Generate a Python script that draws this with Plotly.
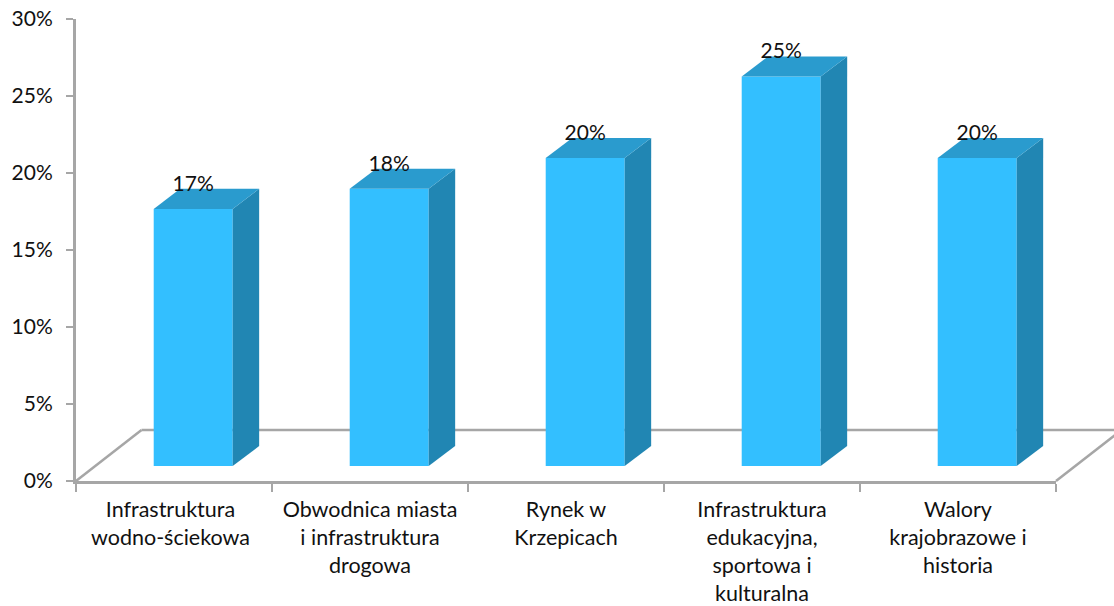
import plotly.graph_objects as go

# --- Data ---
CATEGORIES = [
    "Infrastruktura<br>wodno-ściekowa",
    "Obwodnica miasta<br>i infrastruktura<br>drogowa",
    "Rynek w<br>Krzepicach",
    "Infrastruktura<br>edukacyjna,<br>sportowa i<br>kulturalna",
    "Walory<br>krajobrazowe i<br>historia",
]
VALUES = [16.7, 18.0, 20.0, 25.3, 20.0]
LABELS = ["17%", "18%", "20%", "25%", "20%"]
Y_TICKS = [0, 5, 10, 15, 20, 25, 30]

# --- Constants ---
WIDTH, HEIGHT = 1114, 606
LEFT, RIGHT, TOP, BOTTOM = 76, 58, 19, 125
FONT = "Lato"
AXIS_COLOR = "#A6A6A6"
FRONT_COLOR = "#33BFFF"
TOP_COLOR = "#2A9BCE"
SIDE_COLOR = "#2186B3"

# fake 3d: offsets in axis units
BAR_SHIFT = 0.098
BAR_WIDTH = 0.403
BAR_BASE = 0.97
DEPTH_X = 0.135
DEPTH_Y = 1.3

centers = list(range(len(CATEGORIES)))
bar_x = [c + BAR_SHIFT for c in centers]
# first label sits a little left of its slot in the original
label_x = [c - 0.018 if c == 0 else c for c in centers]

fig = go.Figure()

fig.add_trace(
    go.Bar(
        x=bar_x,
        y=VALUES,
        base=BAR_BASE,
        width=BAR_WIDTH,
        marker=dict(color=FRONT_COLOR, line=dict(width=0)),
        hoverinfo="skip",
    )
)

# side and top faces of each bar
for x, value in zip(bar_x, VALUES):
    x0 = x - BAR_WIDTH / 2
    x1 = x + BAR_WIDTH / 2
    top = BAR_BASE + value
    fig.add_trace(
        go.Scatter(
            x=[x1, x1 + DEPTH_X, x1 + DEPTH_X, x1, x1],
            y=[BAR_BASE, BAR_BASE + DEPTH_Y, top + DEPTH_Y, top, BAR_BASE],
            mode="lines",
            fill="toself",
            fillcolor=SIDE_COLOR,
            line=dict(width=0),
            hoverinfo="skip",
        )
    )
    fig.add_trace(
        go.Scatter(
            x=[x0, x0 + DEPTH_X, x1 + DEPTH_X, x1, x0],
            y=[top, top + DEPTH_Y, top + DEPTH_Y, top, top],
            mode="lines",
            fill="toself",
            fillcolor=TOP_COLOR,
            line=dict(width=0),
            hoverinfo="skip",
        )
    )

# data labels sit on the back edge of the top face
fig.add_trace(
    go.Scatter(
        x=bar_x,
        y=[BAR_BASE + v + DEPTH_Y - 0.45 for v in VALUES],
        mode="text",
        text=LABELS,
        textposition="top center",
        textfont=dict(family=FONT, size=21, color="#111111"),
        cliponaxis=False,
        hoverinfo="skip",
    )
)

# floor outline, in paper units so it can run past the plot area
plot_w = WIDTH - LEFT - RIGHT
plot_h = HEIGHT - TOP - BOTTOM
floor_dx = 65.5 / plot_w
floor_dy = 51 / plot_h
floor_line = dict(color=AXIS_COLOR, width=2.5)
for x0, y0, x1, y1 in [
    (0, 0, floor_dx, floor_dy),
    (floor_dx, floor_dy, 1 + floor_dx, floor_dy),
    (1, 0, 1 + floor_dx, floor_dy),
]:
    fig.add_shape(
        type="line",
        xref="paper",
        yref="paper",
        x0=x0,
        y0=y0,
        x1=x1,
        y1=y1,
        line=floor_line,
        layer="below",
    )

fig.update_layout(
    width=WIDTH,
    height=HEIGHT,
    margin=dict(l=LEFT, r=RIGHT, t=TOP, b=BOTTOM),
    paper_bgcolor="white",
    plot_bgcolor="white",
    showlegend=False,
    font=dict(family=FONT, size=21, color="#111111"),
)

fig.update_xaxes(
    automargin=False,
    range=[-0.5, len(CATEGORIES) - 0.5],
    tickmode="array",
    tickvals=label_x,
    ticktext=CATEGORIES,
    tickfont=dict(family=FONT, size=21.5, color="#111111"),
    ticks="",
    tickangle=0,
    ticklabelstandoff=7,
    ticklabeloverflow="allow",
    showgrid=False,
    zeroline=False,
    showline=True,
    linecolor=AXIS_COLOR,
    linewidth=3,
    minor=dict(
        tickmode="array",
        tickvals=[c - 0.5 for c in centers] + [centers[-1] + 0.5],
        ticks="outside",
        ticklen=8,
        tickwidth=2,
        tickcolor=AXIS_COLOR,
        showgrid=False,
    ),
)

fig.update_yaxes(
    automargin=False,
    range=[0, 30],
    tickmode="array",
    tickvals=Y_TICKS,
    ticktext=[f"{t}%" for t in Y_TICKS],
    ticks="outside",
    ticklen=7,
    tickwidth=2,
    tickcolor=AXIS_COLOR,
    ticklabelstandoff=9,
    ticklabeloverflow="allow",
    showgrid=False,
    zeroline=False,
    showline=True,
    linecolor=AXIS_COLOR,
    linewidth=3,
)

# drop the default body margin so the figure fills the window
fig.write_html(
    "out.html",
    config={"displayModeBar": False},
    post_script="document.body.style.margin = '0';",
)
